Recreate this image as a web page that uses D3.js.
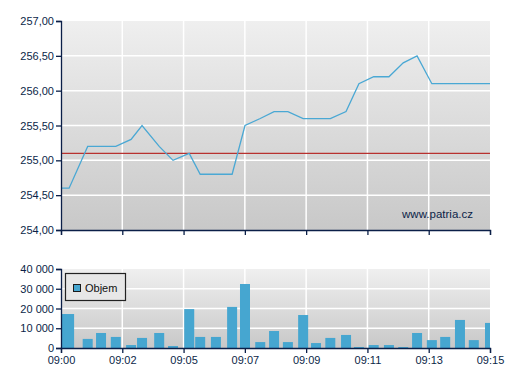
<!DOCTYPE html>
<html>
<head>
<meta charset="utf-8">
<script src="https://cdn.jsdelivr.net/npm/d3@7"></script>
<style>
  body { margin: 0; background: #fff; }
  svg { display: block; font-family: "Liberation Sans", Arial, sans-serif; }
</style>
</head>
<body>
<div id="chart"></div>
<script>
// Trade times, last price and volume per interval
const times = ["09:00:00", "09:00:17", "09:00:56", "09:01:24", "09:01:55", "09:02:27", "09:02:50",
  "09:03:26", "09:03:55", "09:04:29", "09:04:52", "09:05:25", "09:05:59", "09:06:26", "09:06:58",
  "09:07:27", "09:07:56", "09:08:28", "09:08:55", "09:09:25", "09:09:58", "09:10:25", "09:10:56",
  "09:11:28", "09:11:58", "09:12:27", "09:12:58", "09:13:26", "09:13:57", "09:14:26", "09:15:00"];
const prices = [254.6, 254.6, 255.2, 255.2, 255.2, 255.3, 255.5, 255.2, 255.0, 255.1, 254.8, 254.8,
  254.8, 255.5, 255.6, 255.7, 255.7, 255.6, 255.6, 255.6, 255.7, 256.1, 256.2, 256.2, 256.4, 256.5,
  256.1, 256.1, 256.1, 256.1, 256.1];
const volumes = [17200, 17200, 4600, 7600, 5600, 1500, 5100, 7600, 1000, 19700, 5600, 5600, 20800,
  32400, 3000, 8600, 3000, 16700, 2500, 5100, 6600, 500, 1500, 1500, 500, 7600, 4000, 5600, 14200,
  4000, 12700];
const refPrice = 255.1; // previous close
const priceTicks = [254, 254.5, 255, 255.5, 256, 256.5, 257];
const volumeTicks = [0, 10000, 20000, 30000, 40000];
const timeLabels = ["09:00", "09:02", "09:05", "09:07", "09:09", "09:11", "09:13", "09:15"];

const width = 507, height = 380;
const left = 61, right = 490;
const top1 = 21, bottom1 = 230;
const top2 = 269, bottom2 = 348;
const axisColor = "#0b1f48";
const lineColor = "#4aa8d4";
const barColor = "#46a6d0";

const cz = d3.formatLocale({ decimal: ",", thousands: " ", grouping: [3], currency: ["", ""] });
const fmtPrice = cz.format(".2f");
const fmtVol = cz.format(",d");

const parseTime = d3.timeParse("%H:%M:%S");
const data = times.map((t, i) => ({ t: parseTime(t), price: prices[i], vol: volumes[i] }));

const x = d3.scaleTime()
  .domain([parseTime("09:00:00"), parseTime("09:15:00")])
  .range([left, right]);
// tick positions evenly spread over the domain
const [t0, t1] = x.domain();
const tickDates = timeLabels.map((l, i) => new Date(+t0 + (t1 - t0) * i / (timeLabels.length - 1)));

const yP = d3.scaleLinear().domain([254, 257]).range([bottom1, top1]);
const yV = d3.scaleLinear().domain([0, 40000]).range([bottom2, top2]);

const svg = d3.select("#chart").append("svg")
  .attr("width", width)
  .attr("height", height);

const defs = svg.append("defs");
const grad = defs.append("linearGradient")
  .attr("id", "bg").attr("x1", 0).attr("y1", 0).attr("x2", 0).attr("y2", 1);
grad.append("stop").attr("offset", "0%").attr("stop-color", "#efefef");
grad.append("stop").attr("offset", "100%").attr("stop-color", "#c8c8c8");

defs.append("clipPath").attr("id", "clipTop")
  .append("rect").attr("x", left).attr("y", top1).attr("width", right - left).attr("height", bottom1 - top1);
defs.append("clipPath").attr("id", "clipBot")
  .append("rect").attr("x", left).attr("y", top2).attr("width", right - left).attr("height", bottom2 - top2);

// ---------- price panel ----------
svg.append("rect")
  .attr("x", left).attr("y", top1)
  .attr("width", right - left).attr("height", bottom1 - top1)
  .attr("fill", "url(#bg)");

const gridTop = svg.append("g").attr("stroke", "#fff").attr("stroke-width", 1.5);
gridTop.selectAll(".h").data(priceTicks.slice(1, -1)).enter().append("line")
  .attr("x1", left).attr("x2", right)
  .attr("y1", d => yP(d)).attr("y2", d => yP(d));
gridTop.selectAll(".v").data(tickDates.slice(1, -1)).enter().append("line")
  .attr("x1", d => x(d)).attr("x2", d => x(d))
  .attr("y1", top1).attr("y2", bottom1);

svg.append("line")
  .attr("x1", left).attr("x2", right)
  .attr("y1", yP(refPrice)).attr("y2", yP(refPrice))
  .attr("stroke", "#b8312f").attr("stroke-width", 1.2);

const line = d3.line().x(d => x(d.t)).y(d => yP(d.price));
svg.append("path")
  .datum(data)
  .attr("clip-path", "url(#clipTop)")
  .attr("fill", "none")
  .attr("stroke", lineColor)
  .attr("stroke-width", 1.3)
  .attr("d", line);

svg.append("text")
  .attr("x", 473).attr("y", 218)
  .attr("text-anchor", "end")
  .attr("fill", axisColor)
  .style("font-size", "11.5px")
  .text("www.patria.cz");

const yAxisTop = svg.append("g")
  .attr("transform", `translate(${left},0)`)
  .call(d3.axisLeft(yP).tickValues(priceTicks).tickFormat(fmtPrice).tickSize(5).tickPadding(2));
svg.append("g")
  .attr("transform", `translate(0,${bottom1})`)
  .call(d3.axisBottom(x).tickValues(tickDates).tickFormat("").tickSize(5));

// ---------- volume panel ----------
svg.append("rect")
  .attr("x", left).attr("y", top2)
  .attr("width", right - left).attr("height", bottom2 - top2)
  .attr("fill", "url(#bg)");

const gridBot = svg.append("g").attr("stroke", "#fff").attr("stroke-width", 1.5);
gridBot.selectAll(".h").data(volumeTicks.slice(1, -1)).enter().append("line")
  .attr("x1", left).attr("x2", right)
  .attr("y1", d => yV(d)).attr("y2", d => yV(d));
gridBot.selectAll(".v").data(tickDates.slice(1, -1)).enter().append("line")
  .attr("x1", d => x(d)).attr("x2", d => x(d))
  .attr("y1", top2).attr("y2", bottom2);

const barW = 10;
svg.append("g")
  .attr("clip-path", "url(#clipBot)")
  .selectAll("rect")
  .data(data)
  .enter().append("rect")
  .attr("x", d => x(d.t) - barW / 2)
  .attr("y", d => yV(d.vol))
  .attr("width", barW)
  .attr("height", d => bottom2 - yV(d.vol))
  .attr("fill", barColor);

svg.append("g")
  .attr("transform", `translate(${left},0)`)
  .call(d3.axisLeft(yV).tickValues(volumeTicks).tickFormat(fmtVol).tickSize(5).tickPadding(2));
svg.append("g")
  .attr("transform", `translate(0,${bottom2})`)
  .call(d3.axisBottom(x).tickValues(tickDates).tickFormat((d, i) => timeLabels[i]).tickSize(5).tickPadding(3));

// legend
const legend = svg.append("g");
legend.append("rect")
  .attr("x", 65.5).attr("y", 273.5).attr("width", 60).attr("height", 27)
  .attr("fill", "#e7e7e7").attr("stroke", "#222").attr("stroke-width", 1.2);
legend.append("rect")
  .attr("x", 73.5).attr("y", 284.5).attr("width", 7).attr("height", 7)
  .attr("fill", barColor).attr("stroke", "#1a1a1a");
legend.append("text")
  .attr("x", 85).attr("y", 292)
  .attr("fill", "#111")
  .style("font-size", "11px")
  .text("Objem");

// axis styling
svg.selectAll(".domain").attr("stroke", axisColor).attr("stroke-width", 1.3);
svg.selectAll(".tick line").attr("stroke", axisColor).attr("stroke-width", 1.3);
svg.selectAll(".tick text")
  .attr("fill", axisColor)
  .style("font-size", "11px")
  .style("font-family", "'Liberation Sans', Arial, sans-serif");
</script>
</body>
</html>
